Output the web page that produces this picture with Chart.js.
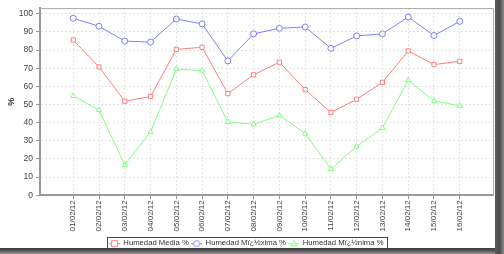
<!DOCTYPE html>
<html><head><meta charset="utf-8">
<script src="https://cdn.jsdelivr.net/npm/chart.js@4"></script>
<style>html,body{margin:0;padding:0;background:#fff;overflow:hidden}</style>
</head><body>
<canvas id="c" width="504" height="254" style="display:block;width:504px;height:254px"></canvas>
<script>
const categories = ['01/02/12','02/02/12','03/02/12','04/02/12','05/02/12','06/02/12','07/02/12','08/02/12','09/02/12','10/02/12','11/02/12','12/02/12','13/02/12','14/02/12','15/02/12','16/02/12'];
const humedadMedia  = [85.5,70.7,51.8,54.4,80.4,81.5,56.0,66.4,73.3,58.2,45.6,52.9,62.2,79.5,72.0,73.8];
const humedadMaxima = [97.5,93.1,84.9,84.4,97.1,94.4,74.0,88.9,92.0,92.7,80.9,87.8,88.9,98.2,88.0,95.8];
const humedadMinima = [54.7,46.9,16.7,34.9,69.5,68.7,40.4,39.1,44.0,34.0,14.5,26.9,37.1,63.3,52.0,49.3];
const yTicks = [0,10,20,30,40,50,60,70,80,90,100];
const seriesNames = ['Humedad Media %','Humedad M\u00ef\u00bf\u00bdxima %','Humedad M\u00ef\u00bf\u00bdnima %'];
const yTitle = '%';

const colors = ['#ff8080','#8080ff','#80ff80'];
const shapes = ['rect','circle','triangle'];

function drawShape(ctx, shape, x, y, r) {
  ctx.beginPath();
  if (shape === 'rect') ctx.rect(x - r, y - r, 2 * r, 2 * r);
  else if (shape === 'circle') ctx.arc(x, y, r, 0, Math.PI * 2);
  else { ctx.moveTo(x, y - r); ctx.lineTo(x + r, y + r * 0.8); ctx.lineTo(x - r, y + r * 0.8); ctx.closePath(); }
  ctx.fillStyle = '#fff'; ctx.fill(); ctx.stroke();
}
function makeIcon(color, shape) {
  const c = document.createElement('canvas');
  c.width = 11; c.height = 8;
  const ctx = c.getContext('2d');
  ctx.strokeStyle = color; ctx.lineWidth = 1;
  ctx.beginPath(); ctx.moveTo(0, 4.5); ctx.lineTo(11, 4.5); ctx.stroke();
  drawShape(ctx, shape, 5.5, 4.5, 3);
  return c;
}
const icons = colors.map((c, i) => makeIcon(c, shapes[i]));

const toPts = arr => arr.map((v, i) => ({x: i, y: v}));
const mk = (label, data, i) => ({
  label, data: toPts(data),
  borderColor: colors[i], backgroundColor: '#ffffff',
  borderWidth: 1, pointStyle: shapes[i], pointRadius: 3,
  pointBorderColor: colors[i], pointBackgroundColor: '#ffffff', pointBorderWidth: 1,
  tension: 0
});

const decor = {
  id: 'decor',
  beforeDraw(chart) {
    const ctx = chart.ctx;
    ctx.save(); ctx.fillStyle = '#fff'; ctx.fillRect(0, 0, 504, 254); ctx.restore();
  },
  afterDraw(chart) {
    const ctx = chart.ctx, a = chart.chartArea;
    ctx.save();
    ctx.strokeStyle = '#a8a8a8'; ctx.lineWidth = 1;
    ctx.beginPath();
    ctx.moveTo(a.left, a.top + 0.5); ctx.lineTo(a.right + 0.5, a.top + 0.5); ctx.lineTo(a.right + 0.5, a.bottom);
    ctx.stroke();
    // legend frame
    const hb = chart.legend.legendHitBoxes;
    if (hb && hb.length) {
      let l = Math.min(...hb.map(h => h.left)), r = Math.max(...hb.map(h => h.left + h.width));
      let t = Math.min(...hb.map(h => h.top)), b = Math.max(...hb.map(h => h.top + h.height));
      ctx.strokeStyle = '#444';
      ctx.strokeRect(Math.round(l - 3) + 0.5, Math.round(t - 2) + 0.5, Math.round(r - l + 6), Math.round(b - t + 3));
    }
    // drop shadow strips
    let g = ctx.createLinearGradient(495, 0, 504, 0);
    g.addColorStop(0, '#5a5a5a'); g.addColorStop(0.5, '#4a4a4a'); g.addColorStop(1, '#8a8a8a');
    ctx.fillStyle = g; ctx.fillRect(495, 0, 9, 254);
    g = ctx.createLinearGradient(0, 248, 0, 254);
    g.addColorStop(0, '#3a3a3a'); g.addColorStop(0.5, '#5a5a5a'); g.addColorStop(1, '#9a9a9a');
    ctx.fillStyle = g; ctx.fillRect(0, 248, 495, 6);
    ctx.restore();
  }
};

new Chart(document.getElementById('c'), {
  type: 'line',
  data: { datasets: [mk(seriesNames[0], humedadMedia, 0), mk(seriesNames[1], humedadMaxima, 1), mk(seriesNames[2], humedadMinima, 2)] },
  options: {
    responsive: false, animation: false, devicePixelRatio: 1,
    layout: { padding: { left: 0, right: 11, top: 4.5, bottom: -3 } },
    plugins: {
      tooltip: { enabled: false },
      legend: {
        position: 'bottom',
        labels: {
          usePointStyle: true, pointStyleWidth: 10, padding: 3,
          color: '#333', font: { family: 'Liberation Sans', size: 7.7 },
          generateLabels: chart => chart.data.datasets.map((d, i) => ({
            text: d.label, pointStyle: icons[i], fillStyle: colors[i], strokeStyle: colors[i],
            lineWidth: 0, hidden: false, datasetIndex: i, fontColor: '#333'
          }))
        }
      }
    },
    scales: {
      x: {
        type: 'linear', min: -1.29, max: 16.29,
        afterBuildTicks: s => { s.ticks = categories.map((c, i) => ({ value: i })); },
        afterFit: s => { s.height = 41; },
        ticks: {
          autoSkip: false, minRotation: 90, maxRotation: 90, padding: 1,
          color: '#444', font: { family: 'Liberation Sans', size: 8 },
          callback: v => categories[v] ?? ''
        },
        grid: { color: '#e4e4e4', tickLength: 4, tickColor: '#999' },
        border: { display: true, color: '#999', width: 2, dash: [2, 2] }
      },
      y: {
        min: 0, max: 103.1,
        afterBuildTicks: s => { s.ticks = yTicks.map(v => ({ value: v })); },
        afterFit: s => { s.width = 40; },
        ticks: { color: '#444', padding: 3, font: { family: 'Liberation Sans', size: 8.5 } },
        grid: { color: '#e4e4e4', tickLength: 4, tickColor: '#999' },
        border: { display: true, color: '#999', width: 2, dash: [2, 2] },
        title: { display: true, text: yTitle, color: '#333', padding: { top: 6, bottom: 0 }, font: { family: 'Liberation Sans', size: 9, weight: 'bold' } }
      }
    }
  },
  plugins: [decor]
});
</script>
</body></html>
